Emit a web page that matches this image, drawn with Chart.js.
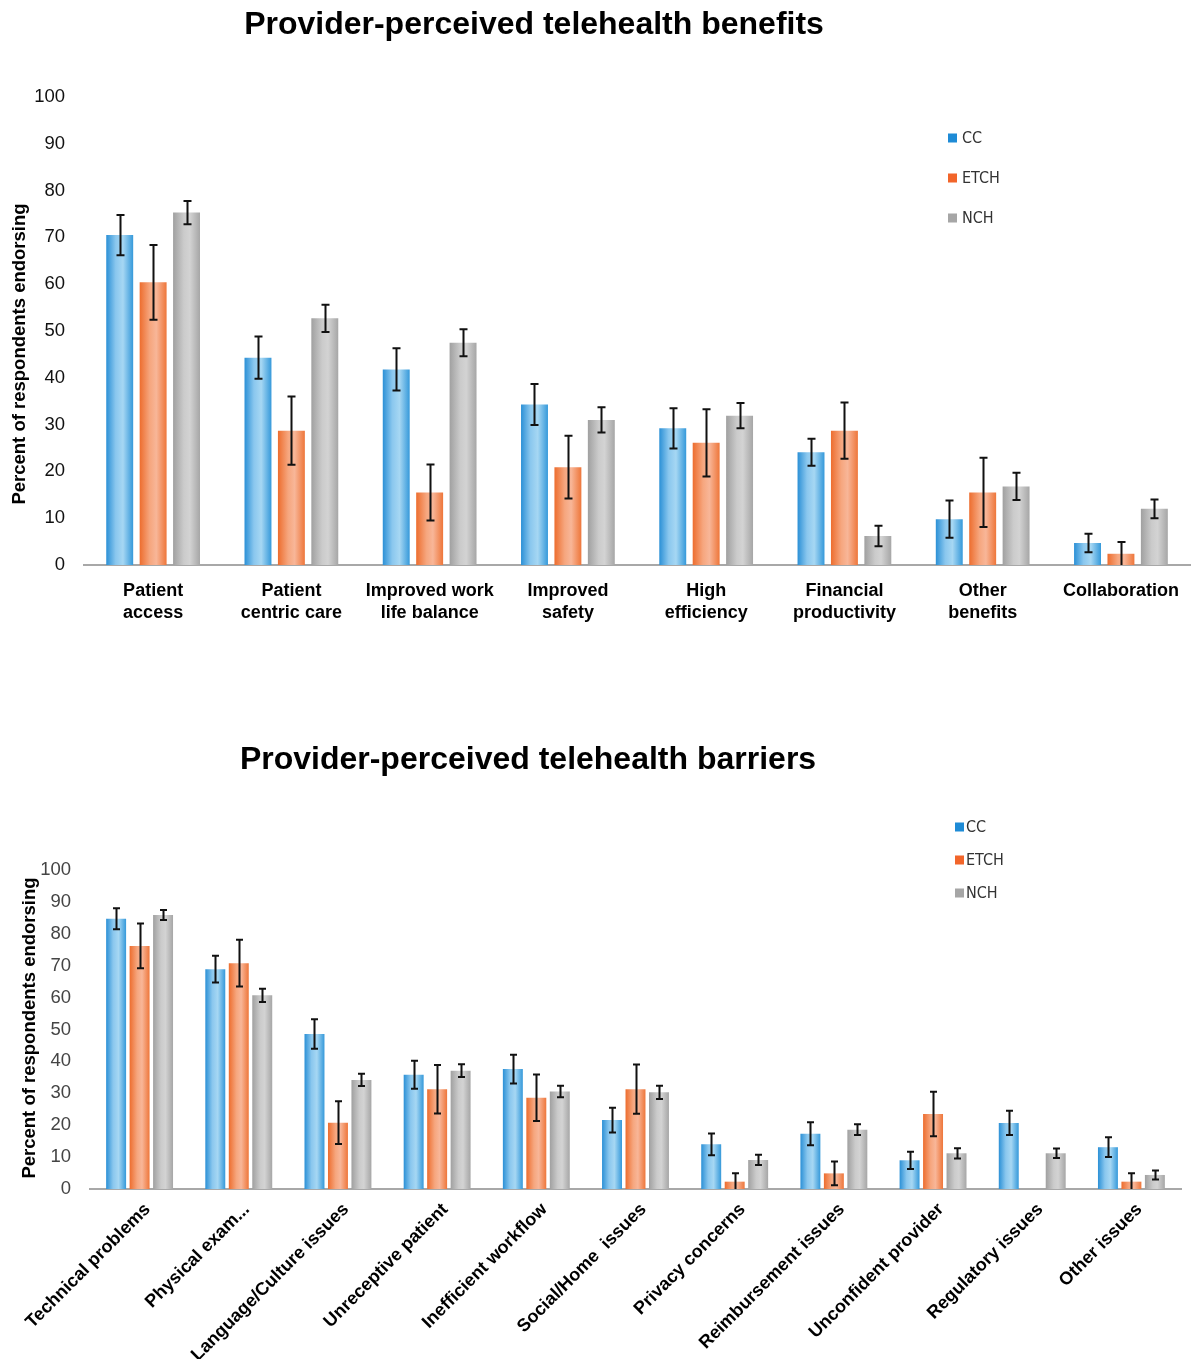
<!DOCTYPE html>
<html><head><meta charset="utf-8">
<script src="https://cdn.jsdelivr.net/npm/chart.js@4.4.1/dist/chart.umd.min.js"></script>
<style>
html,body{margin:0;padding:0;background:#fff;}
#wrap{position:relative;width:1194px;height:1359px;overflow:hidden;background:#fff;}
canvas{position:absolute;left:0;}
#c1{top:0;}
#c2{top:690px;}
</style></head><body>
<div id="wrap">
<canvas id="c1" width="1194" height="650"></canvas>
<canvas id="c2" width="1194" height="669"></canvas>
</div>
<script>
// ---------------- DATA ----------------
const seriesNames = ["CC", "ETCH", "NCH"];
const yTicks = [0, 10, 20, 30, 40, 50, 60, 70, 80, 90, 100];

const benefitTitle = "Provider-perceived telehealth benefits";
const benefitCategories = [["Patient", "access"], ["Patient", "centric care"], ["Improved work", "life balance"], ["Improved", "safety"], ["High", "efficiency"], ["Financial", "productivity"], ["Other", "benefits"], "Collaboration"];
const benefitCC = [70.5, 44.3, 41.8, 34.3, 29.2, 24.1, 9.8, 4.7];
const benefitCCErr = [4.3, 4.5, 4.5, 4.4, 4.3, 2.9, 4.0, 2.0];
const benefitETCH = [60.4, 28.7, 15.5, 20.9, 26.1, 28.7, 15.5, 2.4];
const benefitETCHErr = [8.0, 7.3, 6.0, 6.7, 7.2, 6.0, 7.4, 2.5];
const benefitNCH = [75.3, 52.7, 47.5, 31.0, 31.9, 6.2, 16.8, 12.0];
const benefitNCHErr = [2.5, 2.9, 2.9, 2.7, 2.7, 2.2, 2.9, 2.0];

const barrierTitle = "Provider-perceived telehealth barriers";
const barrierCategories = ["Technical problems", "Physical exam...", "Language/Culture issues", "Unreceptive patient", "Inefficient workflow", "Social/Home  issues", "Privacy concerns", "Reimbursement issues", "Unconfident provider", "Regulatory issues", "Other issues"];
const barrierCC = [84.7, 68.9, 48.6, 35.8, 37.6, 21.6, 14.0, 17.3, 9.0, 20.7, 13.1];
const barrierCCErr = [3.3, 4.2, 4.6, 4.4, 4.5, 3.9, 3.4, 3.6, 2.7, 3.8, 3.1];
const barrierETCH = [76.2, 70.8, 20.8, 31.3, 28.6, 31.3, 2.3, 4.9, 23.5, 0, 2.3];
const barrierETCHErr = [7.0, 7.3, 6.7, 7.6, 7.3, 7.7, 2.6, 3.7, 7.0, null, 2.6];
const barrierNCH = [85.9, 60.7, 34.2, 37.1, 30.6, 30.3, 9.1, 18.6, 11.2, 11.2, 4.4];
const barrierNCHErr = [1.6, 2.1, 1.9, 2.0, 1.8, 2.1, 1.6, 1.7, 1.6, 1.5, 1.4];

const yAxisTitle = "Percent of respondents endorsing";

// ---------------- STYLE ----------------
const SANS = '"Liberation Sans", Arial, Helvetica, sans-serif';
const COND = '"DejaVu Sans Condensed", "Liberation Sans", sans-serif';
const solid = ['#1E8BD6', '#F2652A', '#A6A6A6'];
const gradStops = [
  [[0, '#2B90D6'], [0.35, '#8AC7EE'], [0.62, '#A6D7F3'], [1, '#3599DA']],
  [[0, '#ED6D2E'], [0.38, '#F6A67E'], [0.62, '#F8B698'], [1, '#EE763A']],
  [[0, '#A0A0A0'], [0.4, '#CBCBCB'], [0.62, '#D3D3D3'], [1, '#A6A6A6']]
];

function makeFill(si, cp, bp) {
  return function (c) {
    const chart = c.chart;
    const xs = chart.scales && chart.scales.x;
    if (!chart.chartArea || !xs || c.dataIndex === undefined) return solid[si];
    const n = chart.data.labels.length;
    const nds = chart.data.datasets.length;
    const cw = (xs.right - xs.left) / n;
    const slot = cw * cp / nds;
    const w = slot * bp;
    const cx = xs.getPixelForValue(c.dataIndex) + (c.datasetIndex - (nds - 1) / 2) * slot;
    const g = chart.ctx.createLinearGradient(cx - w / 2, 0, cx + w / 2, 0);
    gradStops[si].forEach(s => g.addColorStop(s[0], s[1]));
    return g;
  };
}

const errorBarPlugin = {
  id: 'errorBars',
  afterDatasetsDraw(chart, args, opts) {
    const ctx = chart.ctx;
    const ys = chart.scales.y;
    ctx.save();
    ctx.strokeStyle = '#111';
    ctx.lineWidth = 2;
    chart.data.datasets.forEach((ds, i) => {
      const meta = chart.getDatasetMeta(i);
      meta.data.forEach((el, j) => {
        const e = ds.errors[j];
        const v = ds.data[j];
        if (e === null || e === undefined) return;
        const yt = ys.getPixelForValue(v + e);
        const yb = ys.getPixelForValue(Math.max(0, v - e));
        const x = Math.round(el.x) + 0.5;
        const h = opts.cap;
        ctx.beginPath();
        ctx.moveTo(x, yt); ctx.lineTo(x, yb);
        ctx.moveTo(x - h, yt); ctx.lineTo(x + h, yt);
        if (v - e > 0.3) { ctx.moveTo(x - h, yb); ctx.lineTo(x + h, yb); }
        ctx.stroke();
      });
    });
    ctx.restore();
  }
};

const decorPlugin = {
  id: 'decor',
  afterDraw(chart, args, o) {
    const ctx = chart.ctx;
    ctx.save();
    ctx.fillStyle = '#000';
    ctx.textAlign = 'center';
    ctx.textBaseline = 'middle';
    ctx.font = 'bold 32px ' + SANS;
    ctx.fillText(o.title, o.titleX, o.titleY);
    ctx.save();
    ctx.translate(o.yTitleX, o.yTitleY);
    ctx.rotate(-Math.PI / 2);
    ctx.font = 'bold 18.5px ' + SANS;
    ctx.fillText(o.yTitle, 0, 0);
    ctx.restore();
    ctx.textAlign = 'left';
    ctx.font = '16px ' + COND;
    chart.data.datasets.forEach((ds, i) => {
      const y = o.legendY + i * o.legendGap;
      ctx.fillStyle = solid[i];
      ctx.fillRect(o.legendX, y - 4.5, 9, 9);
      ctx.fillStyle = '#333';
      ctx.fillText(ds.label, o.legendX + o.legendText, y + 1);
    });
    ctx.restore();
  }
};

function buildChart(id, cfg) {
  const datasets = cfg.values.map((vals, i) => ({
    label: seriesNames[i],
    data: vals,
    errors: cfg.errors[i],
    backgroundColor: makeFill(i, cfg.cp, cfg.bp),
    borderWidth: 0,
    categoryPercentage: cfg.cp,
    barPercentage: cfg.bp
  }));
  return new Chart(document.getElementById(id), {
    type: 'bar',
    data: { labels: cfg.labels, datasets },
    plugins: [errorBarPlugin, decorPlugin],
    options: {
      responsive: false,
      animation: false,
      events: [],
      layout: { padding: { top: cfg.top, left: 0, right: cfg.right, bottom: 0 } },
      plugins: {
        legend: { display: false },
        title: { display: false },
        tooltip: { enabled: false },
        errorBars: { cap: cfg.cap },
        decor: cfg.decor
      },
      scales: {
        x: {
          grid: { display: false, drawTicks: false },
          border: { display: true, color: '#A8A8A8', width: 2 },
          ticks: cfg.xTicks,
          afterFit(s) { s.height = cfg.xH; }
        },
        y: {
          min: 0, max: 100,
          grid: { display: false, drawTicks: false },
          border: { display: false },
          ticks: { padding: 19, color: cfg.yTickColor, font: { family: SANS, size: 18.5 } },
          afterBuildTicks(s) { s.ticks = yTicks.map(v => ({ value: v })); },
          afterFit(s) { s.width = cfg.yW; }
        }
      }
    }
  });
}

buildChart('c1', {
  labels: benefitCategories,
  values: [benefitCC, benefitETCH, benefitNCH],
  errors: [benefitCCErr, benefitETCHErr, benefitNCHErr],
  cp: 0.725, bp: 0.806, cap: 4,
  top: 97, right: 1, xH: 85, yW: 84,
  yTickColor: '#111',
  xTicks: { color: '#000', padding: 15, maxRotation: 0, minRotation: 0, autoSkip: false,
            font: { family: SANS, size: 18, weight: 'bold', lineHeight: 1.22 } },
  decor: { title: benefitTitle, titleX: 534, titleY: 25, yTitle: yAxisTitle, yTitleX: 20, yTitleY: 354,
           legendX: 948, legendY: 138, legendGap: 40, legendText: 14 }
});

buildChart('c2', {
  labels: barrierCategories,
  values: [barrierCC, barrierETCH, barrierNCH],
  errors: [barrierCCErr, barrierETCHErr, barrierNCHErr],
  cp: 0.71, bp: 0.85, cap: 3.5,
  top: 180, right: 13, xH: 170, yW: 90,
  yTickColor: '#444',
  xTicks: { color: '#000', padding: 10, labelOffset: 8, maxRotation: 45, minRotation: 45, autoSkip: false,
            font: { family: SANS, size: 18, weight: 'bold' } },
  decor: { title: barrierTitle, titleX: 528, titleY: 70, yTitle: yAxisTitle, yTitleX: 30, yTitleY: 338,
           legendX: 955, legendY: 137, legendGap: 33, legendText: 11 }
});
</script>
</body></html>
